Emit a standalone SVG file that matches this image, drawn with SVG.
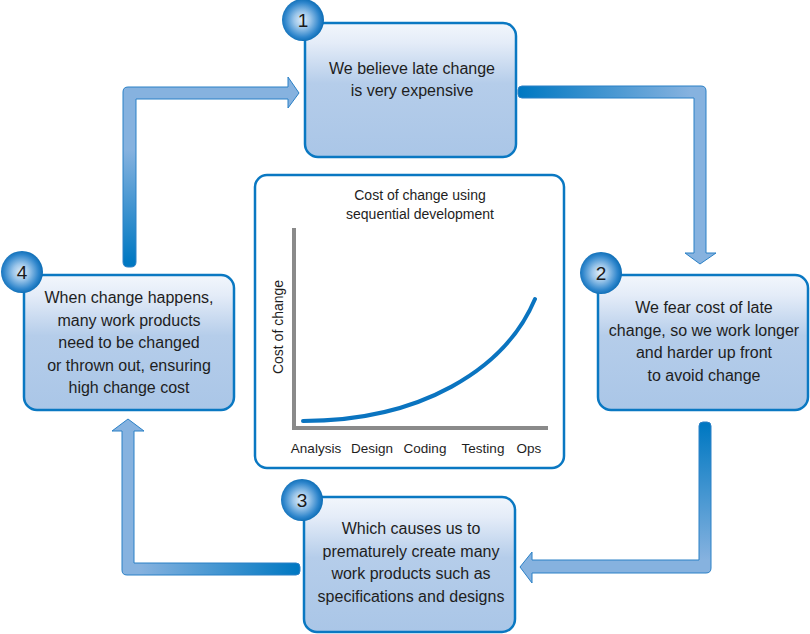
<svg xmlns="http://www.w3.org/2000/svg" width="810" height="634" viewBox="0 0 810 634">
<defs>
<linearGradient id="boxFill" x1="0" y1="0" x2="0" y2="1">
<stop offset="0" stop-color="#f2f6fc"/>
<stop offset="0.15" stop-color="#e4ecf8"/>
<stop offset="0.45" stop-color="#b5cdea"/>
<stop offset="1" stop-color="#aac6e7"/>
</linearGradient>
<radialGradient id="ball" cx="0.48" cy="0.5" r="0.55">
<stop offset="0" stop-color="#e2eef9"/>
<stop offset="0.35" stop-color="#9cc6ea"/>
<stop offset="0.75" stop-color="#2f86cc"/>
<stop offset="1" stop-color="#0064ad"/>
</radialGradient>
<linearGradient id="gA" gradientUnits="userSpaceOnUse" x1="0" y1="262" x2="0" y2="150">
<stop offset="0" stop-color="#0078c2"/>
<stop offset="1" stop-color="#86b2df"/>
</linearGradient>
<linearGradient id="gB" gradientUnits="userSpaceOnUse" x1="520" y1="0" x2="690" y2="0">
<stop offset="0" stop-color="#0078c2"/>
<stop offset="1" stop-color="#86b2df"/>
</linearGradient>
<linearGradient id="gC" gradientUnits="userSpaceOnUse" x1="0" y1="425" x2="0" y2="560">
<stop offset="0" stop-color="#0078c2"/>
<stop offset="1" stop-color="#86b2df"/>
</linearGradient>
<linearGradient id="gD" gradientUnits="userSpaceOnUse" x1="298" y1="0" x2="140" y2="0">
<stop offset="0" stop-color="#0078c2"/>
<stop offset="1" stop-color="#86b2df"/>
</linearGradient>
</defs>
<style>
.box{fill:url(#boxFill);stroke:#0a78c2;stroke-width:2.5}
.ball{fill:url(#ball)}
.arrow{stroke:#2a80c6;stroke-width:1}
.t{font-family:"Liberation Sans",Arial,sans-serif;font-size:16px;fill:#1e1e1e;text-anchor:middle}
.num{font-family:"Liberation Sans",Arial,sans-serif;font-size:19px;fill:#1a1a1a;text-anchor:middle}
.ct{font-family:"Liberation Sans",Arial,sans-serif;font-size:14px;fill:#1e1e1e;text-anchor:middle}
.ax{font-family:"Liberation Sans",Arial,sans-serif;font-size:13.5px;fill:#1e1e1e;text-anchor:middle}
</style>
<rect width="810" height="634" fill="#ffffff"/>

<g id="connectors">
<path class="arrow" fill="url(#gA)" d="M123,262 L123,92 Q123,87 128,87 L288,87 L288,77 L299,93 L288,108 L288,99 L136,99 L136,262 Q136,267 131,267 L128,267 Q123,267 123,262 Z"/>
<path class="arrow" fill="url(#gB)" d="M522,86 L701,86 Q706,86 706,91 L706,253 L716,253 L700,264 L685,253 L694,253 L694,98 L522,98 Q518,98 518,94 L518,90 Q518,86 522,86 Z"/>
<path class="arrow" fill="url(#gC)" d="M699,426 Q699,422 703,422 L707,422 Q711,422 711,426 L711,568 Q711,573 706,573 L532,573 L532,583 L520,567 L532,552 L532,560 L699,560 Z"/>
<path class="arrow" fill="url(#gD)" d="M300,567 L300,571 Q300,575 296,575 L127,575 Q122,575 122,570 L122,431 L112,431 L128,419 L144,431 L134,431 L134,563 L296,563 Q300,563 300,567 Z"/>
</g>

<g id="chart">
<rect x="255" y="175" width="309" height="293" rx="12" fill="#ffffff" stroke="#0a78c2" stroke-width="2.5"/>
<text class="ct" x="420" y="200">Cost of change using</text>
<text class="ct" x="420" y="219">sequential development</text>
<path d="M294,228 L294,428 L548,428" fill="none" stroke="#8a8a8a" stroke-width="4"/>
<path d="M303,421 C420,421 505,370 535,299" fill="none" stroke="#0a74c0" stroke-width="4" stroke-linecap="round"/>
<text class="ct" transform="translate(283,327) rotate(-90)">Cost of change</text>
<text class="ax" x="316" y="453">Analysis</text>
<text class="ax" x="372" y="453">Design</text>
<text class="ax" x="425" y="453">Coding</text>
<text class="ax" x="483" y="453">Testing</text>
<text class="ax" x="529" y="453">Ops</text>
</g>

<g id="node1">
<rect class="box" x="305" y="23" width="211" height="134" rx="13"/>
<text class="t" x="412" y="74">We believe late change</text>
<text class="t" x="412" y="96">is very expensive</text>
<circle class="ball" cx="303" cy="20" r="21"/>
<text class="num" x="303" y="27">1</text>
</g>

<g id="node2">
<rect class="box" x="598" y="275" width="210" height="135" rx="13"/>
<text class="t" x="704" y="313">We fear cost of late</text>
<text class="t" x="704" y="336">change, so we work longer</text>
<text class="t" x="704" y="358">and harder up front</text>
<text class="t" x="704" y="381">to avoid change</text>
<circle class="ball" cx="601" cy="273" r="21"/>
<text class="num" x="601" y="280">2</text>
</g>

<g id="node3">
<rect class="box" x="304" y="497" width="211" height="135" rx="13"/>
<text class="t" x="411" y="534">Which causes us to</text>
<text class="t" x="411" y="557">prematurely create many</text>
<text class="t" x="411" y="579">work products such as</text>
<text class="t" x="411" y="602">specifications and designs</text>
<circle class="ball" cx="302" cy="500" r="21"/>
<text class="num" x="302" y="507">3</text>
</g>

<g id="node4">
<rect class="box" x="24" y="275" width="210" height="135" rx="13"/>
<text class="t" x="129" y="303">When change happens,</text>
<text class="t" x="129" y="326">many work products</text>
<text class="t" x="129" y="348">need to be changed</text>
<text class="t" x="129" y="371">or thrown out, ensuring</text>
<text class="t" x="129" y="393">high change cost</text>
<circle class="ball" cx="22" cy="272" r="21"/>
<text class="num" x="22" y="279">4</text>
</g>
</svg>
